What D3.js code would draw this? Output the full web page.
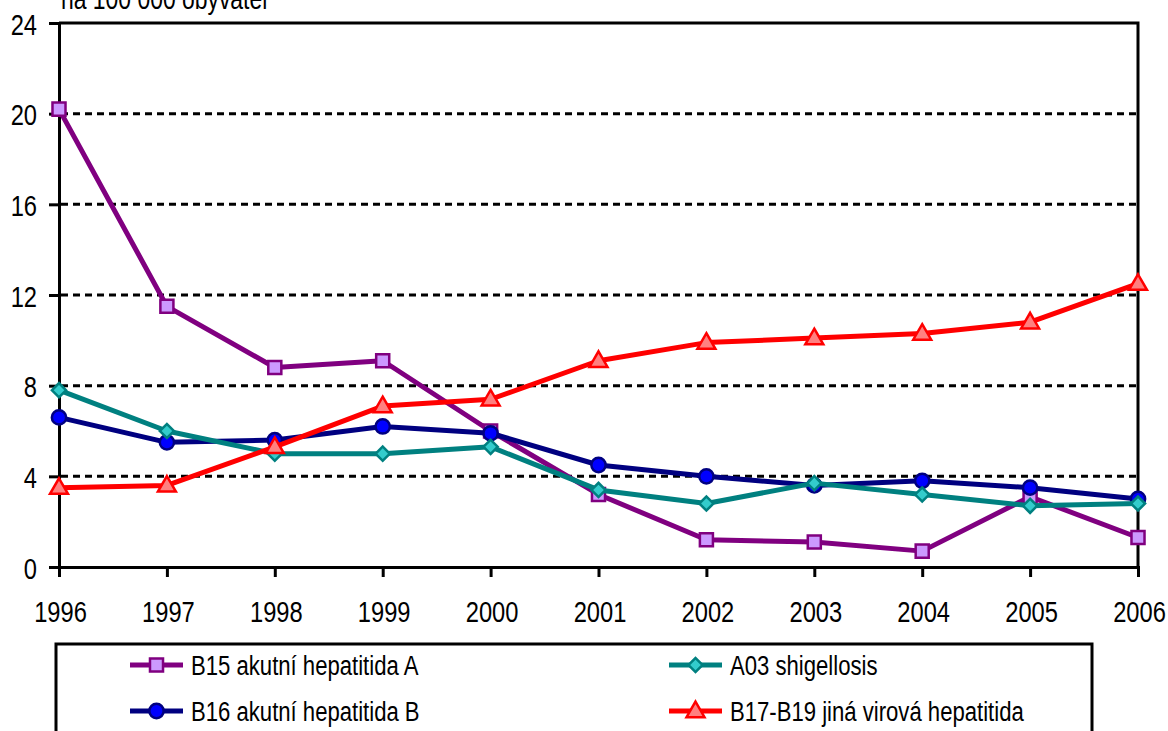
<!DOCTYPE html>
<html>
<head>
<meta charset="utf-8">
<script src="https://cdn.jsdelivr.net/npm/d3@7"></script>
<style>
    body { margin: 0; background: #fff; }
    svg { display: block; font-family: "Liberation Sans", Arial, sans-serif; }
</style>
</head>
<body>
<script>
"use strict";

const years = [1996, 1997, 1998, 1999, 2000, 2001, 2002, 2003, 2004, 2005, 2006];
const hepA = [20.2, 11.5, 8.8, 9.1, 6.0, 3.2, 1.2, 1.1, 0.7, 3.1, 1.3];
const shigellosis = [7.8, 6.0, 5.0, 5.0, 5.3, 3.4, 2.8, 3.7, 3.2, 2.7, 2.8];
const hepB = [6.6, 5.5, 5.6, 6.2, 5.9, 4.5, 4.0, 3.6, 3.8, 3.5, 3.0];
const hepOther = [3.5, 3.6, 5.3, 7.1, 7.4, 9.1, 9.9, 10.1, 10.3, 10.8, 12.5];
const yTicks = [0, 4, 8, 12, 16, 20, 24];

const series = [
    { name: 'B15 akutní hepatitida A', values: hepA, line: '#800080', fill: '#CC99FF', symbol: d3.symbolSquare, size: 170, rot: 0, dy: 0 },
    { name: 'B16 akutní hepatitida B', values: hepB, line: '#000080', fill: '#0000FF', symbol: d3.symbolCircle, size: 160, rot: 0, dy: 0 },
    { name: 'A03 shigellosis', values: shigellosis, line: '#008080', fill: '#33CCCC', symbol: d3.symbolSquare, size: 100, rot: 45, dy: 0 },
    { name: 'B17-B19 jiná virová hepatitida', values: hepOther, line: '#FF0000', fill: '#FF8080', symbol: d3.symbolTriangle, size: 140, rot: 0, dy: 1 }
];

const NARROW = 0.79;   // no Arial Narrow here, squeeze the regular face

const width = 1168, height = 731;
const margin = { left: 59, right: 30, top: 23, bottom: 164 };

const svg = d3.select('body').append('svg')
    .attr('width', width)
    .attr('height', height);

const x = d3.scaleLinear()
    .domain([1996, 2006])
    .range([margin.left, width - margin.right]);
const y = d3.scaleLinear()
    .domain([0, 24])
    .range([height - margin.bottom, margin.top]);

function narrowText(sel, px, py, size) {
    sel.attr('transform', `translate(${px},${py}) scale(${NARROW},1)`)
        .attr('x', 0)
        .attr('y', 0)
        .attr('font-size', size);
}

// unit label, cut at the top like the source
svg.append('text')
    .text('na 100 000 obyvatel')
    .call(narrowText, 61, 9, 29);

// grid
svg.append('g')
    .selectAll('line')
    .data(yTicks.filter(d => d > 0 && d < 24))
    .join('line')
    .attr('x1', x(1996) + 2)
    .attr('x2', x(2006))
    .attr('y1', d => y(d))
    .attr('y2', d => y(d))
    .attr('stroke', '#000')
    .attr('stroke-width', 3)
    .attr('stroke-dasharray', '7,5');

// frame top + right
svg.append('path')
    .attr('d', `M${x(1996)},${y(24)} H${x(2006)} V${y(0)}`)
    .attr('fill', 'none')
    .attr('stroke', '#000')
    .attr('stroke-width', 3);

// axes
const yAxis = svg.append('g')
    .attr('transform', `translate(${x(1996)},0)`)
    .call(d3.axisLeft(y).tickValues(yTicks).tickSize(10).tickPadding(8));
const xAxis = svg.append('g')
    .attr('transform', `translate(0,${y(0)})`)
    .call(d3.axisBottom(x).tickValues(years).tickFormat(d3.format('d')).tickSize(10).tickPadding(14));

[yAxis, xAxis].forEach(ax => {
    ax.select('.domain').attr('stroke', '#000').attr('stroke-width', 3);
    ax.selectAll('.tick line').attr('stroke', '#000').attr('stroke-width', 3);
    ax.selectAll('.tick text').attr('fill', '#000').attr('dy', null);
});
yAxis.selectAll('.tick text').each(function () {
    d3.select(this).attr('text-anchor', 'end').call(narrowText, -22, 11, 30);
});
xAxis.selectAll('.tick text').each(function () {
    d3.select(this).attr('text-anchor', 'middle').call(narrowText, 1, 55, 30);
});

// lines
const line = d3.line()
    .x((d, i) => x(years[i]))
    .y(d => y(d));

const seriesG = svg.append('g')
    .selectAll('g')
    .data(series)
    .join('g');

seriesG.append('path')
    .attr('d', d => line(d.values))
    .attr('fill', 'none')
    .attr('stroke', d => d.line)
    .attr('stroke-width', 5)
    .attr('stroke-linejoin', 'round');

seriesG.each(function (s) {
    d3.select(this).selectAll('path.mark')
        .data(s.values)
        .join('path')
        .attr('class', 'mark')
        .attr('transform', (d, i) => `translate(${x(years[i])},${y(d) + s.dy}) rotate(${s.rot})`)
        .attr('d', d3.symbol().type(s.symbol).size(s.size))
        .attr('fill', s.fill)
        .attr('stroke', s.line)
        .attr('stroke-width', 2.5);
});

// legend
const legend = svg.append('g');
legend.append('rect')
    .attr('x', 56)
    .attr('y', 644)
    .attr('width', 1036)
    .attr('height', 120)
    .attr('fill', '#fff')
    .attr('stroke', '#000')
    .attr('stroke-width', 3);

const legendPos = [
    { x: 130, y: 665 },
    { x: 130, y: 711 },
    { x: 669, y: 665 },
    { x: 669, y: 711 }
];

const items = legend.selectAll('g.item')
    .data(series)
    .join('g')
    .attr('class', 'item')
    .attr('transform', (d, i) => `translate(${legendPos[i].x},${legendPos[i].y})`);

items.append('line')
    .attr('x1', 0)
    .attr('x2', 53)
    .attr('stroke', d => d.line)
    .attr('stroke-width', 5);
items.append('path')
    .attr('transform', d => `translate(26.5,${d.dy}) rotate(${d.rot})`)
    .attr('d', d => d3.symbol().type(d.symbol).size(d.size)())
    .attr('fill', d => d.fill)
    .attr('stroke', d => d.line)
    .attr('stroke-width', 2.5);
items.append('text')
    .text(d => d.name)
    .call(narrowText, 61, 10, 28);
</script>
</body>
</html>
